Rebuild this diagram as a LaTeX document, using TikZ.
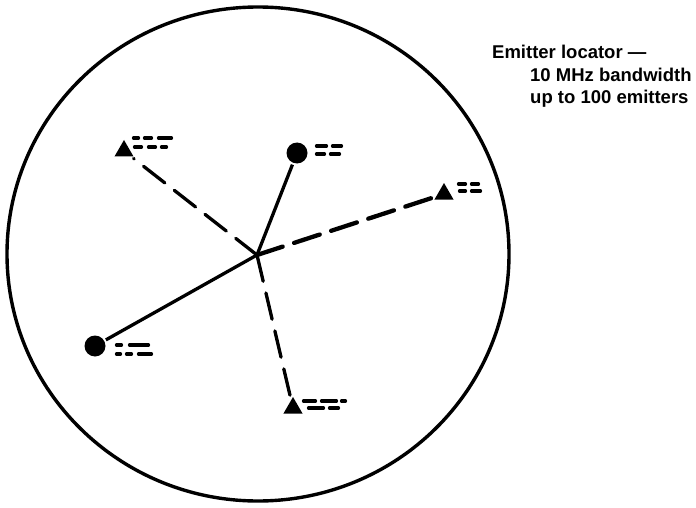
\documentclass[tikz,border=0pt]{standalone}
\usepackage{fontspec}
\setmainfont{Liberation Sans}
\usetikzlibrary{shapes.geometric}

\tikzset{
  dot/.style={circle,fill,inner sep=0pt,minimum size=21pt,outer sep=2pt},
  tri/.style={regular polygon,regular polygon sides=3,fill,inner sep=0pt,minimum size=22pt,outer sep=2pt},
  link/.style={line width=3.3pt},
  dlink/.style={line width=3.3pt,line cap=round,dash pattern=on 27pt off 12pt},
  tag/.style={line width=3.3pt,line cap=round},
  txt/.style={anchor=base west,inner sep=0pt,font=\bfseries\fontsize{18.5}{22}\selectfont}
}

\begin{document}
\begin{tikzpicture}[x=1pt,y=-1pt]
\useasboundingbox (0,0) rectangle (696,508);

\draw[line width=3.4pt] (258,254) ellipse [x radius=251, y radius=247];

\coordinate (hub) at (257,255);
\node[tri] (t1) at (124,151) {};
\node[dot] (c1) at (297,153) {};
\node[tri] (t2) at (444,194) {};
\node[dot] (c2) at (95,346) {};
\node[tri] (t3) at (293,408) {};

\draw[dlink] (hub) -- (t1);
\draw[link] (hub) -- (c1);
\draw[dlink,line width=4.3pt] (hub) -- (t2);
\draw[link] (hub) -- (c2);
\draw[dlink] (hub) -- (t3);

% id marks beside each emitter
\draw[tag] (133.5,138) -- (138.5,138) (144.5,138) -- (151.5,138) (158.5,138) -- (171.5,138)
           (134.5,147) -- (141.5,147) (148.5,147) -- (155.5,147) (161.5,147) -- (166.5,147);
\draw[tag] (316.5,146) -- (326.5,146) (332.5,146) -- (341.5,146)
           (316.5,154) -- (324.5,154) (330.5,154) -- (339.5,154);
\draw[tag] (458.5,184) -- (465.5,184) (471.5,184) -- (478.5,184)
           (459.5,191) -- (465.5,191) (471.5,191) -- (480.5,191);
\draw[tag] (116.5,345) -- (121.5,345) (129.5,345) -- (148.5,345)
           (116.5,354) -- (120.5,354) (126.5,354) -- (131.5,354) (138.5,354) -- (151.5,354);
\draw[tag] (303.5,401) -- (315.5,401) (321.5,401) -- (336.5,401) (341.5,401) -- (345.5,401)
           (308.5,408) -- (323.5,408) (329.5,408) -- (338.5,408);

\node[txt] (title) at (492,58.5) {Emitter locator \textemdash};
\node[txt] (bw) at (530,81.5) {10 MHz bandwidth};
\node[txt] (cnt) at (530,103.5) {up to 100 emitters};
\end{tikzpicture}
\end{document}
